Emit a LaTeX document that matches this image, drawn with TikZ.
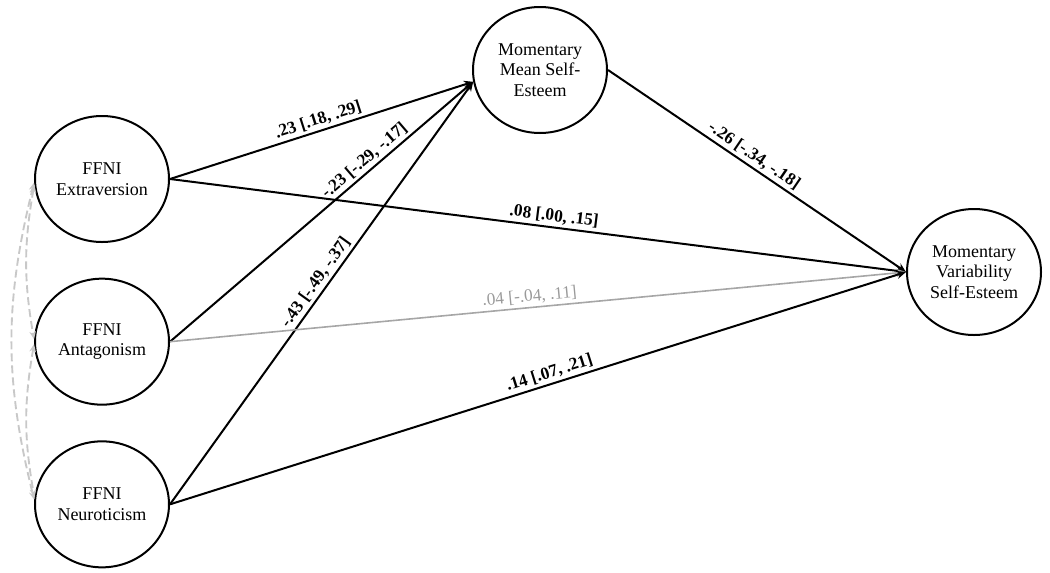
\documentclass[tikz,border=0pt]{standalone}
\usepackage{fontspec}
\setmainfont{Liberation Serif}
\usepackage{tikz}
\usetikzlibrary{arrows.meta,positioning,shapes.geometric}
\definecolor{covgray}{HTML}{C8C8C8}
\definecolor{nsgray}{HTML}{A6A6A6}
\definecolor{nstext}{HTML}{9A9A9A}

\begin{document}
\begin{tikzpicture}[
  x=0.75pt, y=-0.75pt,
  node distance=26pt,
  latent/.style={draw, ellipse, line width=1.5pt, minimum width=100.5pt, minimum height=94.5pt, inner sep=0pt, align=center, font=\fontsize{13.5}{15.5}\selectfont},
  arr/.style={-{Stealth[length=7pt, width=6pt]}, line width=1.5pt},
  nsarr/.style={arr, draw=nsgray, line width=1.2pt},
  cov/.style={{Stealth[length=6pt, width=5pt]}-{Stealth[length=6pt, width=5pt]}, draw=covgray, dash pattern=on 6pt off 3pt, line width=1.4pt},
  lbl/.style={sloped, above, inner sep=2pt, font=\fontsize{13}{15}\selectfont\bfseries},
  nslbl/.style={sloped, above, inner sep=2pt, text=nstext, font=\fontsize{13}{15}\selectfont},
]
  \useasboundingbox (0,0) rectangle (1050,572);

  % Predictors
  \node[latent] (ext) at (102,179) {FFNI\\Extraversion};
  \node[latent, below=of ext] (ant) {FFNI\\Antagonism};
  \node[latent, below=of ant] (neu) {FFNI\\Neuroticism};

  % Outcomes
  \node[latent] (mean) at (540,70) {Momentary\\Mean Self-\\Esteem};
  \node[latent] (var) at (974,272) {Momentary\\Variability\\Self-Esteem};

  \coordinate (meanin) at (mean.190);
  \coordinate (varin) at (var.west);

  % Paths to mean self-esteem
  \draw[arr] (ext.east) -- node[lbl, pos=0.5] {.23 [.18, .29]} (meanin);
  \draw[arr] (ant.east) -- node[lbl, pos=0.665] {-.23 [-.29, -.17]} (meanin);
  \draw[arr] (neu.east) -- node[lbl, pos=0.51] {-.43 [-.49, -.37]} (meanin);

  % Paths to variability self-esteem
  \draw[arr] (mean.east) -- node[lbl, pos=0.47] {-.26 [-.34, -.18]} (varin);
  \draw[arr] (ext.east) -- node[lbl, pos=0.52] {.08 [.00, .15]} (varin);
  \draw[nsarr] (ant.east) -- node[nslbl, pos=0.49] {.04 [-.04, .11]} (varin);
  \draw[arr] (neu.east) -- node[lbl, pos=0.52] {.14 [.07, .21]} (varin);

  % Covariances
  \draw[cov] (ext.185) to[bend right=10] (ant.178);
  \draw[cov] (ant.182) to[bend right=10] (neu.174);
  \draw[cov] (ext.183) to[bend right=14] (neu.176);
\end{tikzpicture}
\end{document}
